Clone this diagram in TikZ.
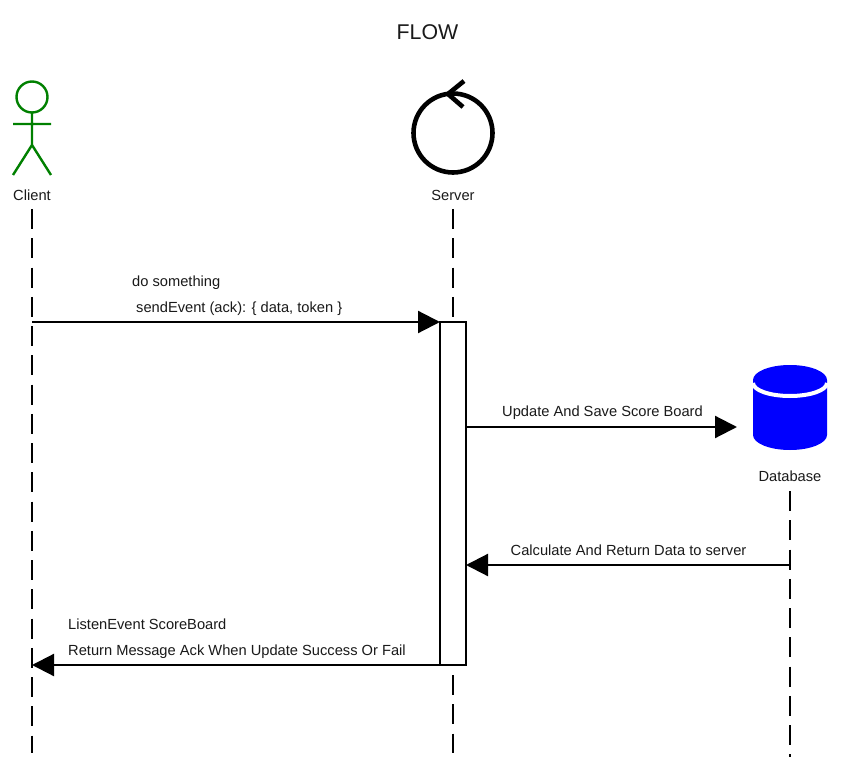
\documentclass[tikz,border=0pt]{standalone}
\usepackage{fontspec}
\setmainfont{Liberation Sans}
\usetikzlibrary{arrows.meta}
\definecolor{txt}{HTML}{1A1A1A}
\definecolor{actorgreen}{HTML}{008000}
\definecolor{dbblue}{HTML}{0000FF}
\tikzset{
  lbl/.style={inner sep=0pt,text=txt,font=\fontsize{14.67}{17}\selectfont},
  lifeline/.style={line width=2.2pt,dash pattern=on 20pt off 9.25pt,black},
  msg/.style={line width=2.2pt,black,-{Triangle[length=22pt,width=22pt]}},
  activation/.style={draw=black,line width=2.2pt,fill=white,minimum width=26pt,minimum height=343pt,inner sep=0pt,outer sep=0pt},
  actorline/.style={line width=2.4pt,draw=actorgreen},
  ctrl/.style={line width=4.6pt,draw=black}
}
\begin{document}
\begin{tikzpicture}[x=1pt,y=-1pt]
\useasboundingbox (0,0) rectangle (855,757);
\fill[white] (0,0) rectangle (855,757);
\node[inner sep=0pt,text=txt,font=\fontsize{21.33}{25}\selectfont] (title) at (427.5,32.5) {FLOW};
% Client
\draw[actorline] (32,97) circle (15.5);
\draw[actorline] (32,112.5) -- (32,145) (13,124) -- (51,124) (13,175) -- (32,145) -- (51,175);
\node[lbl] (client) at (32,195.5) {Client};
% Server
\draw[ctrl] (453,133) circle (39.5);
\draw[ctrl] (464,81) -- (448,94) -- (463,107);
\node[lbl] (server) at (453,195.5) {Server};
% Database
\fill[dbblue] (753,380) arc[start angle=180,end angle=360,x radius=37,y radius=15]
  -- (827,435) arc[start angle=0,end angle=180,x radius=37,y radius=15] -- cycle;
\draw[white,line width=4pt] (753,383) arc[start angle=180,end angle=0,x radius=37,y radius=13];
\node[lbl] (database) at (790,476) {Database};
% Lifelines
\coordinate (c0) at (32,209); \coordinate (c1) at (32,753);
\coordinate (s0) at (453,209); \coordinate (s1) at (453,322);
\coordinate (s2) at (453,675); \coordinate (s3) at (453,753);
\coordinate (d0) at (790,491); \coordinate (d1) at (790,757);
\draw[lifeline] (c0) -- (c1);
\draw[lifeline] (s0) -- (s1);
\draw[lifeline] (s2) -- (s3);
\draw[lifeline] (d0) -- (d1);
% Activation
\node[activation,anchor=north west] (act) at (440,322) {};
% Messages
\coordinate (m1) at (32,322);
\draw[msg] (m1) -- (m1 -| act.west);
\coordinate (m2) at (466,427); \coordinate (m2e) at (737,427);
\draw[msg] (m2) -- (m2e);
\coordinate (m3) at (790,565); 
\draw[msg] (m3) -- (m3 -| act.east);
\coordinate (m4) at (440,665);
\draw[msg] (m4) -- (m4 -| c0);
% Labels
\node[lbl,anchor=base west] (t1) at (132,286) {do something};
\node[lbl,anchor=base west] (t2) at (136,312) {sendEvent (ack): \{ data, token \}};
\node[lbl,anchor=base west] (t3) at (502,416) {Update And Save Score Board};
\node[lbl,anchor=base west] (t4) at (510.5,555) {Calculate And Return Data to server};
\node[lbl,anchor=base west] (t5) at (68,629) {ListenEvent ScoreBoard};
\node[lbl,anchor=base west] (t6) at (68,655) {Return Message Ack When Update Success Or Fail};
\end{tikzpicture}
\end{document}
